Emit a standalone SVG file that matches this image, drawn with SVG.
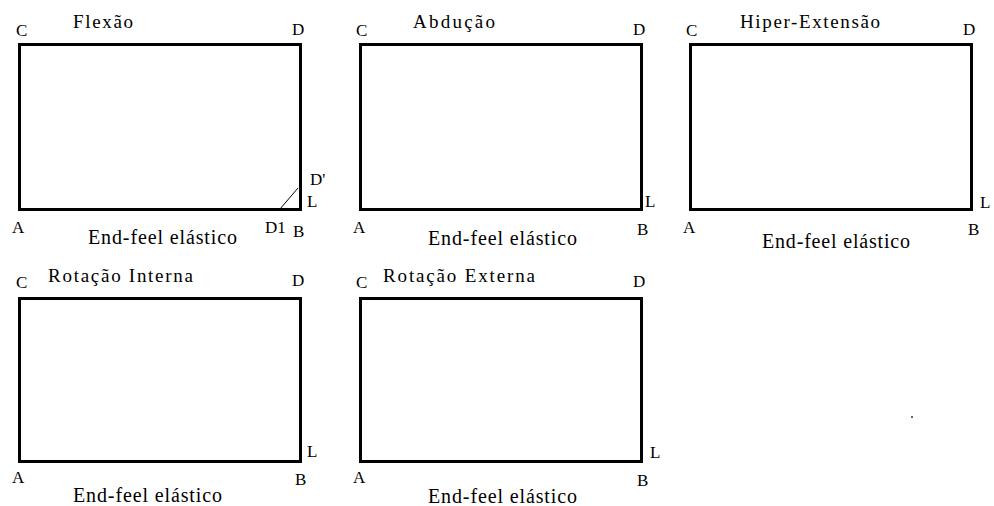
<svg xmlns="http://www.w3.org/2000/svg" width="994" height="506" viewBox="0 0 994 506" font-family="Liberation Serif, Times New Roman, Times, serif">
  <style>
    .box { fill: none; stroke: #000; stroke-width: 3; }
    .pt { font-size: 17px; }
    .ttl { font-size: 19px; }
    .ef { font-size: 20px; }
  </style>
  <rect width="994" height="506" fill="#fff"/>

  <!-- Flexão -->
  <g id="flexao">
    <rect class="box" x="19.5" y="44.5" width="281" height="165"/>
    <text class="ttl" x="73" y="28" textLength="60" lengthAdjust="spacing">Flexão</text>
    <text class="pt" x="16" y="36">C</text>
    <text class="pt" x="292" y="35">D</text>
    <text class="pt" x="12" y="233">A</text>
    <text class="pt" x="265" y="233">D1</text>
    <text class="pt" x="293" y="237">B</text>
    <text class="pt" x="307" y="207">L</text>
    <text class="pt" x="310" y="185">D'</text>
    <line x1="280" y1="209" x2="298" y2="188" stroke="#000" stroke-width="1"/>
    <text class="ef" x="88" y="244" textLength="149" lengthAdjust="spacing">End-feel elástico</text>
  </g>

  <!-- Abdução -->
  <g id="abducao">
    <rect class="box" x="360.5" y="44.5" width="281" height="165"/>
    <text class="ttl" x="413" y="28" textLength="82" lengthAdjust="spacing">Abdução</text>
    <text class="pt" x="356" y="36">C</text>
    <text class="pt" x="633" y="35">D</text>
    <text class="pt" x="353" y="233">A</text>
    <text class="pt" x="637" y="235">B</text>
    <text class="pt" x="645" y="207">L</text>
    <text class="ef" x="428" y="245" textLength="149" lengthAdjust="spacing">End-feel elástico</text>
  </g>

  <!-- Hiper-Extensão -->
  <g id="hiper-extensao">
    <rect class="box" x="690.5" y="44.5" width="281" height="165"/>
    <text class="ttl" x="740" y="28" textLength="140" lengthAdjust="spacing">Hiper-Extensão</text>
    <text class="pt" x="686" y="36">C</text>
    <text class="pt" x="963" y="35">D</text>
    <text class="pt" x="683" y="233">A</text>
    <text class="pt" x="968" y="235">B</text>
    <text class="pt" x="980" y="208">L</text>
    <text class="ef" x="762" y="248" textLength="148" lengthAdjust="spacing">End-feel elástico</text>
  </g>

  <!-- Rotação Interna -->
  <g id="rotacao-interna">
    <rect class="box" x="19.5" y="298.5" width="281" height="163"/>
    <text class="ttl" x="48" y="282" textLength="145" lengthAdjust="spacing">Rotação Interna</text>
    <text class="pt" x="16" y="288">C</text>
    <text class="pt" x="292" y="286">D</text>
    <text class="pt" x="12" y="483">A</text>
    <text class="pt" x="295" y="485">B</text>
    <text class="pt" x="307" y="457">L</text>
    <text class="ef" x="73" y="502" textLength="149" lengthAdjust="spacing">End-feel elástico</text>
  </g>

  <!-- Rotação Externa -->
  <g id="rotacao-externa">
    <rect class="box" x="360.5" y="298.5" width="281" height="163"/>
    <text class="ttl" x="383" y="282" textLength="152" lengthAdjust="spacing">Rotação Externa</text>
    <text class="pt" x="356" y="288">C</text>
    <text class="pt" x="633" y="287">D</text>
    <text class="pt" x="353" y="483">A</text>
    <text class="pt" x="637" y="486">B</text>
    <text class="pt" x="650" y="458">L</text>
    <text class="ef" x="428" y="503" textLength="149" lengthAdjust="spacing">End-feel elástico</text>
  </g>

  <!-- stray mark -->
  <rect x="911" y="416" width="2" height="2" fill="#666"/>
</svg>
